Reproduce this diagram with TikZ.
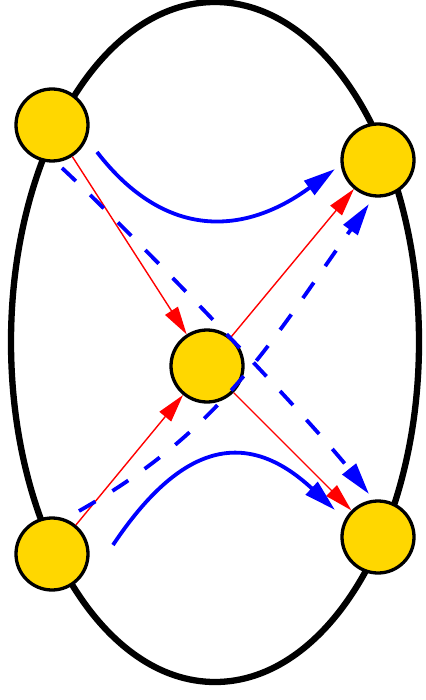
\documentclass[tikz,border=0pt]{standalone}
\usetikzlibrary{arrows.meta}
\definecolor{gold}{RGB}{255,215,0}
\begin{document}
\begin{tikzpicture}[x=1pt,y=-1pt,
  vtx/.style={circle,draw=black,fill=gold,line width=3.3pt,minimum size=72pt,inner sep=0pt},
  redarr/.style={red,line width=1.4pt,-{Triangle[length=28pt,width=15pt]}},
  bluearc/.style={blue,line width=3.8pt,-{Triangle[length=32pt,width=17pt]}},
  bluedash/.style={bluearc,dash pattern=on 19pt off 20pt}]
\useasboundingbox (0,0) rectangle (425,700);
\draw[line width=6.3pt] (215,342) ellipse [x radius=204pt, y radius=340pt];
\node[vtx] (A) at (52,125) {};
\node[vtx] (B) at (378,160) {};
\node[vtx] (C) at (207,366) {};
\node[vtx] (D) at (52,554) {};
\node[vtx] (E) at (378,537) {};
\draw[redarr] (A) -- (C);
\draw[redarr] (C) -- (B);
\draw[redarr] (D) -- (C);
\draw[redarr] (C) -- (E);
\coordinate (u0) at (97,152);
\coordinate (u1) at (335,169);
\coordinate (l0) at (113,545);
\coordinate (l1) at (335,510);
\coordinate (p0) at (62,168);
\coordinate (p1) at (369,494);
\coordinate (q0) at (79,511);
\coordinate (q1) at (369,204);
\draw[bluearc] (u0) .. controls (165.3,240.5) and (244.8,235.4) .. (u1);
\draw[bluearc] (l0) .. controls (180.7,443.5) and (245.9,427) .. (l1);
\draw[bluedash] (p0) .. controls (135,236) and (307,416) .. (p1);
\draw[bluedash] (q0) .. controls (222.5,430) and (273,339) .. (q1);
\end{tikzpicture}
\end{document}
